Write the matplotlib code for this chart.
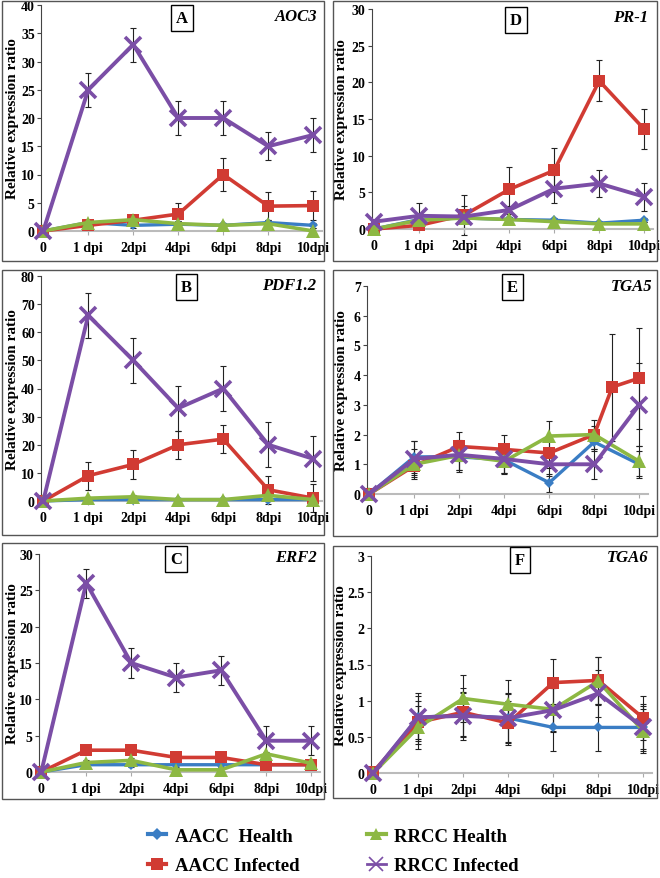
import matplotlib
matplotlib.use("Agg")
import matplotlib.pyplot as plt
from matplotlib.patches import Rectangle
from matplotlib.lines import Line2D

# ---------------- data ----------------
categories = ["0", "1 dpi", "2dpi", "4dpi", "6dpi", "8dpi", "10dpi"]
series_names = ["AACC  Health", "AACC Infected", "RRCC Health", "RRCC Infected"]

# Panel A  AOC3
A_blue = [0, 1.5, 1.0, 1.2, 1.0, 1.5, 1.0]
A_blue_err = [0, 0.5, 0.5, 0.5, 0.5, 0.5, 0.5]
A_red = [0, 1.0, 1.9, 3.0, 10.0, 4.4, 4.5]
A_red_err = [0, 0.5, 0.5, 2.0, 3.0, 2.5, 2.5]
A_green = [0, 1.5, 2.0, 1.3, 1.0, 1.3, 0.0]
A_green_err = [0, 0.5, 0.5, 0.5, 0.5, 0.5, 0.5]
A_purple = [0, 25, 33, 20, 20, 15, 17]
A_purple_err = [0, 3, 3, 3, 3, 2.5, 3]

# Panel B  PDF1.2
B_blue = [0, 0.5, 0.5, 0.5, 0.5, 0.5, 0.5]
B_blue_err = [0, 0.5, 0.5, 0.5, 0.5, 0.5, 0.5]
B_red = [0, 9, 13, 20, 22, 4, 1]
B_red_err = [0, 5, 5, 5, 5, 5, 5]
B_green = [0, 1.0, 1.5, 0.5, 0.5, 2.0, 0.5]
B_green_err = [0, 0.5, 0.5, 0.5, 0.5, 0.5, 0.5]
B_purple = [0, 66, 50, 33, 40, 20, 15]
B_purple_err = [0, 8, 8, 8, 8, 8, 8]

# Panel C  ERF2
C_blue = [0, 1, 1, 1, 1, 1, 1]
C_blue_err = [0, 0.3, 0.3, 0.3, 0.3, 0.3, 0.3]
C_red = [0, 3, 3, 2, 2, 1, 1]
C_red_err = [0, 0.3, 0.3, 0.3, 0.3, 0.3, 0.3]
C_green = [0, 1.3, 1.6, 0.3, 0.3, 2.5, 1.2]
C_green_err = [0, 0.3, 0.3, 0.3, 0.3, 0.3, 0.3]
C_purple = [0, 26, 15, 13, 14, 4.3, 4.3]
C_purple_err = [0, 2, 2, 2, 2, 2, 2]

# Panel D  PR-1
D_blue = [0, 1.3, 1.5, 1.3, 1.2, 0.8, 1.2]
D_blue_err = [0, 0.3, 0.3, 0.3, 0.3, 0.3, 0.3]
D_red = [0, 0.5, 1.9, 5.4, 8.0, 20.2, 13.6]
D_red_err = [0, 0.5, 2.7, 3.0, 3.0, 2.8, 2.7]
D_green = [0, 1.2, 1.5, 1.3, 1.0, 0.7, 0.7]
D_green_err = [0, 0.3, 0.3, 0.3, 0.3, 0.3, 0.3]
D_purple = [1.0, 1.8, 1.7, 2.6, 5.5, 6.2, 4.4]
D_purple_err = [0, 1.8, 1.5, 0.5, 1.9, 1.9, 1.9]

# Panel E  TGA5 (red series has an extra point between 8dpi and 10dpi)
E_blue = [0, 1.25, 1.25, 1.15, 0.38, 1.75, 1.0]
E_blue_err = [0, 0.55, 0.5, 0.45, 0.3, 0.3, 0.45]
E_red_x = [0, 1, 2, 3, 4, 5, 5.4, 6]
E_red = [0, 0.95, 1.6, 1.5, 1.38, 2.0, 3.6, 3.9]
E_red_err = [0, 0.3, 0.5, 0.5, 0.5, 0.3, 1.8, 1.7]
E_green = [0, 1.0, 1.3, 1.1, 1.95, 2.0, 1.1]
E_green_err = [0, 0.5, 0.5, 0.4, 0.5, 0.5, 0.5]
E_purple = [0, 1.18, 1.32, 1.18, 1.0, 1.0, 3.0]
E_purple_err = [0, 0.6, 0.5, 0.5, 0.4, 0.5, 1.4]

# Panel F  TGA6
F_blue = [0, 0.77, 0.80, 0.76, 0.63, 0.63, 0.63]
F_blue_err = [0, 0.3, 0.3, 0.35, 0.33, 0.32, 0.33]
F_red = [0.02, 0.70, 0.84, 0.69, 1.25, 1.28, 0.76]
F_red_err = [0, 0.3, 0.33, 0.3, 0.33, 0.33, 0.3]
F_green = [0, 0.63, 1.03, 0.95, 0.88, 1.27, 0.58]
F_green_err = [0, 0.3, 0.33, 0.33, 0.3, 0.33, 0.3]
F_purple = [0, 0.77, 0.79, 0.76, 0.87, 1.10, 0.63]
F_purple_err = [0, 0.33, 0.33, 0.33, 0.3, 0.33, 0.3]

A_ticks = [0, 5, 10, 15, 20, 25, 30, 35, 40]
B_ticks = [0, 10, 20, 30, 40, 50, 60, 70, 80]
C_ticks = [0, 5, 10, 15, 20, 25, 30]
D_ticks = [0, 5, 10, 15, 20, 25, 30]
E_ticks = [0, 1, 2, 3, 4, 5, 6, 7]
F_ticks = [0, 0.5, 1, 1.5, 2, 2.5, 3]
F_tick_labels = ["0", "0.5", "1", "1.5", "2", "2.5", "3"]

# ---------------- style ----------------
COL_BLUE = "#3A7DC4"
COL_RED = "#D13B33"
COL_GREEN = "#8DB843"
COL_PURPLE = "#7B4EA6"
SERIF = ["Liberation Serif", "DejaVu Serif"]

W, H = 660, 879
fig = plt.figure(figsize=(W / 100, H / 100), dpi=100)
fig.patch.set_facecolor("white")


def frac_rect(left, top, right, bottom):
    return [left / W, 1 - bottom / H, (right - left) / W, (bottom - top) / H]


# panel frames
for (l, t, r, b) in [(2, 2, 324, 262), (333, 2, 657, 262),
                     (2, 271, 324, 536), (333, 271, 657, 537),
                     (2, 544, 324, 800), (333, 547, 657, 799)]:
    fig.patches.append(Rectangle((l / W, 1 - b / H), (r - l) / W, (b - t) / H,
                                 transform=fig.transFigure, fill=False,
                                 edgecolor="#555555", lw=1.0))

XMIN, XMAX = -0.05, 6.2
PXU = 45.0  # pixels per category unit
x_idx = list(range(len(categories)))


def draw_panel(axleft, zero_px, top_px, ymax, ticks, series, letter, gene,
               letter_xy, gene_xy, label_right_px, tick_labels=None):
    width = (XMAX - XMIN) * PXU
    ax = fig.add_axes(frac_rect(axleft, top_px, axleft + width, zero_px))
    ax.set_facecolor("none")
    styles = [
        dict(color=COL_BLUE, marker="D", ms=5, lw=2.4, mew=0),
        dict(color=COL_RED, marker="s", ms=8.5, lw=2.6, mew=0),
        dict(color=COL_GREEN, marker="^", ms=9.5, lw=2.6, mew=0),
        dict(color=COL_PURPLE, marker="x", ms=11, lw=2.8, mew=2.6),
    ]
    for (xs, ys, es), st in zip(series, styles):
        ax.errorbar(xs, ys, yerr=es, fmt="none", ecolor="#222222",
                    elinewidth=0.8, capsize=2, capthick=0.8, zorder=1,
                    clip_on=False)
        ax.plot(xs, ys, clip_on=False, zorder=3, **st)
    ax.set_xlim(XMIN, XMAX)
    ax.set_ylim(0, ymax)
    ax.set_xticks(x_idx)
    ax.set_xticklabels(categories)
    ax.set_yticks(ticks)
    if tick_labels is not None:
        ax.set_yticklabels(tick_labels)
    for s in ["top", "right"]:
        ax.spines[s].set_visible(False)
    ax.spines["left"].set_color("#444444")
    ax.spines["left"].set_linewidth(0.8)
    ax.spines["bottom"].set_color("#BBBBBB")
    ax.spines["bottom"].set_linewidth(1.5)
    ax.tick_params(axis="y", length=3, width=0.8, color="#444444", pad=1.5,
                   direction="out")
    ax.tick_params(axis="x", length=3, width=0.8, color="#AAAAAA", pad=4,
                   direction="out")
    for lab in ax.get_xticklabels() + ax.get_yticklabels():
        lab.set_fontfamily(SERIF)
        lab.set_fontweight("bold")
        lab.set_fontsize(10)
    ax.set_ylabel("Relative expression ratio", fontfamily=SERIF,
                  fontweight="bold", fontsize=11)
    ax.yaxis.set_label_coords((label_right_px - axleft) / width, 0.5)
    fig.text(letter_xy[0] / W, 1 - letter_xy[1] / H, letter, ha="center",
             va="center", fontfamily=SERIF, fontweight="bold", fontsize=12,
             bbox=dict(boxstyle="square,pad=0.3", fc="white", ec="black",
                       lw=1.0))
    fig.text(gene_xy[0] / W, 1 - gene_xy[1] / H, gene, ha="right",
             va="center", fontfamily=SERIF, fontweight="bold",
             fontstyle="italic", fontsize=12)
    return ax


draw_panel(41, 232, 6, 40, A_ticks,
           [(x_idx, A_blue, A_blue_err), (x_idx, A_red, A_red_err),
            (x_idx, A_green, A_green_err), (x_idx, A_purple, A_purple_err)],
           "A", "AOC3", (182, 19), (317, 17), 19)
draw_panel(41, 502, 277, 80, B_ticks,
           [(x_idx, B_blue, B_blue_err), (x_idx, B_red, B_red_err),
            (x_idx, B_green, B_green_err), (x_idx, B_purple, B_purple_err)],
           "B", "PDF1.2", (186, 288), (316, 286), 19)
draw_panel(39, 773, 555, 30, C_ticks,
           [(x_idx, C_blue, C_blue_err), (x_idx, C_red, C_red_err),
            (x_idx, C_green, C_green_err), (x_idx, C_purple, C_purple_err)],
           "C", "ERF2", (176, 560), (317, 558), 19)
draw_panel(372, 230, 10, 30, D_ticks,
           [(x_idx, D_blue, D_blue_err), (x_idx, D_red, D_red_err),
            (x_idx, D_green, D_green_err), (x_idx, D_purple, D_purple_err)],
           "D", "PR-1", (516, 21), (648, 18), 348)
draw_panel(367, 495, 287, 7, E_ticks,
           [(x_idx, E_blue, E_blue_err), (E_red_x, E_red, E_red_err),
            (x_idx, E_green, E_green_err), (x_idx, E_purple, E_purple_err)],
           "E", "TGA5", (512, 288), (652, 287), 348)
draw_panel(371, 774, 557, 3, F_ticks,
           [(x_idx, F_blue, F_blue_err), (x_idx, F_red, F_red_err),
            (x_idx, F_green, F_green_err), (x_idx, F_purple, F_purple_err)],
           "F", "TGA6", (520, 561), (648, 558), 347, tick_labels=F_tick_labels)

# legend
handles = [
    Line2D([], [], color=COL_BLUE, marker="D", ms=6, lw=3, mew=0),
    Line2D([], [], color=COL_RED, marker="s", ms=8, lw=3, mew=0),
    Line2D([], [], color=COL_GREEN, marker="^", ms=9, lw=3, mew=0),
    Line2D([], [], color=COL_PURPLE, marker="x", ms=10, lw=2, mew=1.2),
]
fig.legend(handles, series_names, loc="center",
           bbox_to_anchor=(0.505, 1 - 852 / H), ncol=2, frameon=False,
           prop=dict(family=SERIF, weight="bold", size=13.5),
           handlelength=1.0, handletextpad=0.45, columnspacing=3.6,
           labelspacing=0.65)

fig.savefig("out.png", dpi=100, facecolor="white")
